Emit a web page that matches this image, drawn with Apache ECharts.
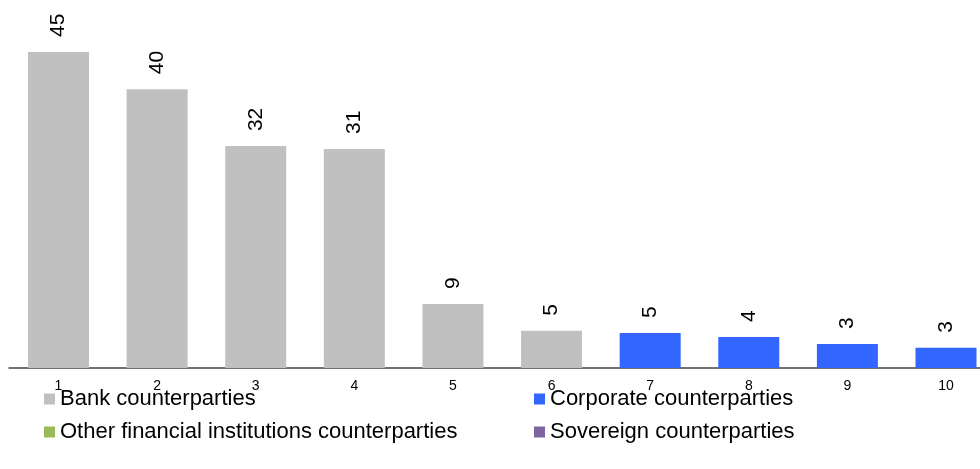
<!DOCTYPE html>
<html>
<head>
<meta charset="utf-8">
<script src="https://cdn.jsdelivr.net/npm/echarts@6/dist/echarts.min.js"></script>
<style>html,body{margin:0;padding:0;background:#fff}#c{width:980px;height:469px}</style>
</head>
<body>
<div id="c"></div>
<script>
var categories = ['1','2','3','4','5','6','7','8','9','10'];
var bankValues = [45, 39.7, 31.6, 31.2, 9.1, 5.3, '-', '-', '-', '-'];
var corporateValues = ['-', '-', '-', '-', '-', '-', 5.0, 4.4, 3.4, 2.9];
var otherValues = ['-', '-', '-', '-', '-', '-', '-', '-', '-', '-'];
var sovereignValues = ['-', '-', '-', '-', '-', '-', '-', '-', '-', '-'];
var seriesNames = ['Bank counterparties', 'Corporate counterparties', 'Other financial institutions counterparties', 'Sovereign counterparties'];
var colors = ['#c0c0c0', '#3366ff', '#9bbb59', '#8064a2'];

var FONT = 'Liberation Sans, Arial, sans-serif';
function mk(name, data, color) {
  return {
    name: name, type: 'bar', stack: 'all', data: data, barWidth: 61, clip: false,
    xAxisIndex: 0, yAxisIndex: 0,
    itemStyle: { color: color },
    label: {
      show: true, position: 'top', rotate: 90, align: 'left', verticalAlign: 'middle',
      distance: 15, fontSize: 21, fontFamily: FONT, color: '#000',
      formatter: function (p) { return Math.round(p.value); }
    }
  };
}
function lg(name, left, top) {
  return {
    data: [name], left: left, top: top, icon: 'rect', itemWidth: 11, itemHeight: 11,
    itemGap: 5, padding: 0, selectedMode: false,
    textStyle: { fontSize: 22, fontFamily: FONT, color: '#000', padding: [0, 0, 0, 0] }
  };
}
var chart = echarts.init(document.getElementById('c'));
chart.setOption({
  animation: false,
  color: colors,
  grid: [
    { left: 58.5, right: 34, top: 52, bottom: 101 },
    { left: 9, right: 0, top: 52, bottom: 101 }
  ],
  xAxis: [
    {
      type: 'category', data: categories, boundaryGap: false, gridIndex: 0, z: 3,
      axisLine: { show: false },
      axisTick: { show: false },
      axisLabel: { fontSize: 14, fontFamily: FONT, color: '#000', margin: 11 }
    },
    {
      type: 'value', gridIndex: 1, min: 0, max: 1,
      axisLine: { show: true, lineStyle: { color: '#444', width: 1.5 } },
      axisTick: { show: false }, axisLabel: { show: false }, splitLine: { show: false }
    }
  ],
  yAxis: [
    { type: 'value', min: 0, max: 45, show: false, splitLine: { show: false }, gridIndex: 0 },
    { type: 'value', min: 0, max: 1, show: false, splitLine: { show: false }, gridIndex: 1 }
  ],
  legend: [
    lg(seriesNames[0], 44, 388),
    lg(seriesNames[1], 534, 388),
    lg(seriesNames[2], 44, 421),
    lg(seriesNames[3], 534, 421)
  ],
  series: [
    mk(seriesNames[0], bankValues, colors[0]),
    mk(seriesNames[1], corporateValues, colors[1]),
    mk(seriesNames[2], otherValues, colors[2]),
    mk(seriesNames[3], sovereignValues, colors[3])
  ]
});
</script>
</body>
</html>
